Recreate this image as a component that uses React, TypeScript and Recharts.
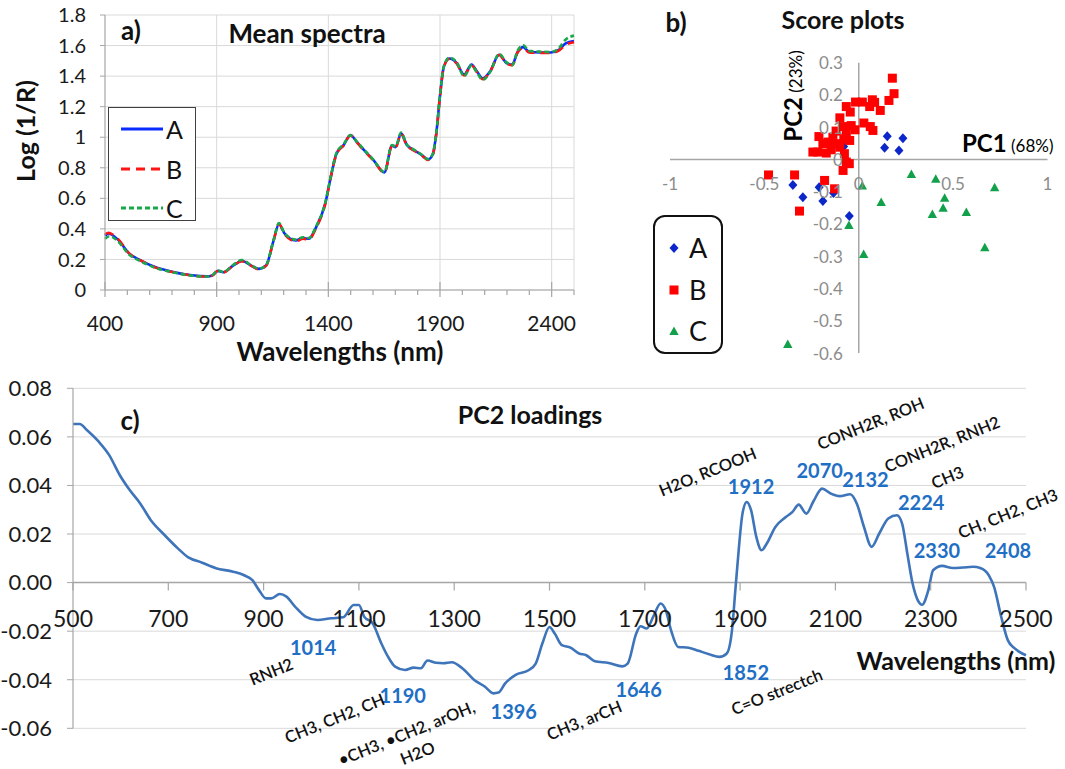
import React from "react";
import {
  LineChart,
  Line,
  ScatterChart,
  Scatter,
  XAxis,
  YAxis,
  CartesianGrid,
  ReferenceLine,
  ReferenceDot,
} from "recharts";

const FONT = "Lato, 'Open Sans', sans-serif";

// ---- a) mean spectra ----
const spectraWl = [400, 416, 425, 458, 508, 557, 624, 707, 789, 856, 880, 905, 930, 972, 1013, 1055, 1088, 1121, 1154, 1179, 1204, 1254, 1287, 1312, 1345, 1386, 1411, 1436, 1469, 1499, 1527, 1560, 1602, 1651, 1685, 1701, 1726, 1751, 1784, 1817, 1847, 1867, 1883, 1900, 1917, 1941, 1975, 2008, 2041, 2066, 2091, 2124, 2165, 2198, 2223, 2248, 2273, 2298, 2347, 2397, 2430, 2463, 2500];
const meanA = [0.355, 0.37, 0.366, 0.33, 0.24, 0.195, 0.15, 0.117, 0.096, 0.089, 0.095, 0.125, 0.116, 0.158, 0.19, 0.16, 0.138, 0.16, 0.32, 0.43, 0.37, 0.325, 0.34, 0.335, 0.41, 0.565, 0.74, 0.89, 0.95, 1.015, 0.97, 0.915, 0.85, 0.77, 0.945, 0.935, 1.025, 0.95, 0.915, 0.885, 0.855, 0.885, 1.02, 1.27, 1.46, 1.515, 1.485, 1.41, 1.475, 1.43, 1.385, 1.43, 1.54, 1.485, 1.475, 1.56, 1.59, 1.56, 1.555, 1.555, 1.57, 1.615, 1.63];
const meanB = [0.365, 0.375, 0.37, 0.335, 0.24, 0.195, 0.148, 0.116, 0.095, 0.088, 0.094, 0.124, 0.115, 0.157, 0.188, 0.158, 0.136, 0.158, 0.318, 0.432, 0.365, 0.318, 0.336, 0.33, 0.405, 0.562, 0.738, 0.888, 0.948, 1.012, 0.968, 0.912, 0.848, 0.768, 0.942, 0.932, 1.022, 0.948, 0.912, 0.882, 0.852, 0.882, 1.018, 1.268, 1.458, 1.512, 1.482, 1.405, 1.47, 1.425, 1.38, 1.428, 1.538, 1.482, 1.472, 1.556, 1.585, 1.555, 1.552, 1.552, 1.565, 1.605, 1.622];
const meanC = [0.335, 0.35, 0.35, 0.318, 0.232, 0.19, 0.146, 0.115, 0.094, 0.088, 0.096, 0.128, 0.118, 0.162, 0.196, 0.162, 0.14, 0.162, 0.322, 0.438, 0.372, 0.33, 0.345, 0.34, 0.415, 0.57, 0.745, 0.895, 0.955, 1.012, 0.972, 0.918, 0.852, 0.772, 0.948, 0.94, 1.03, 0.952, 0.918, 0.886, 0.856, 0.888, 1.022, 1.272, 1.464, 1.52, 1.49, 1.398, 1.47, 1.422, 1.375, 1.426, 1.545, 1.49, 1.472, 1.568, 1.602, 1.565, 1.56, 1.558, 1.58, 1.64, 1.665];
const spectraTicks = [400, 500, 600, 700, 800, 900, 1000, 1100, 1200, 1300, 1400, 1500, 1600, 1700, 1800, 1900, 2000, 2100, 2200, 2300, 2400, 2500];
const spectraLabelTicks = [400, 900, 1400, 1900, 2400];
const spectraYTicks = [0, 0.2, 0.4, 0.6, 0.8, 1, 1.2, 1.4, 1.6, 1.8];
const spectraSeries = [
  { key: "A", color: "#0a2bff", dash: undefined as string | undefined },
  { key: "B", color: "#ff1414", dash: "9 6" },
  { key: "C", color: "#19a84a", dash: "5 3" },
];

const spectraData = spectraWl.map((wl, i) => ({ wl, A: meanA[i], B: meanB[i], C: meanC[i] }));

// ---- b) score plots ----
const scoreA_pc1 = [0.151, 0.234, 0.137, 0.213, -0.349, -0.296, -0.19, -0.21, -0.134, -0.05, -0.08];
const scoreA_pc2 = [0.072, 0.066, 0.036, 0.028, -0.079, -0.117, -0.129, -0.086, -0.104, -0.175, 0.04];
const scoreB_pc1 = [0.178, 0.187, 0.16, 0.072, 0.084, 0.058, 0.114, -0.017, 0.019, -0.045, -0.066, -0.1, -0.04, 0.027, 0.061, 0.075, -0.02, -0.084, -0.12, -0.211, -0.066, -0.137, -0.163, -0.19, -0.079, -0.048, -0.243, -0.217, -0.172, -0.146, -0.1, -0.076, -0.05, -0.083, -0.066, -0.478, -0.34, -0.181, -0.128, -0.314, -0.12];
const scoreB_pc2 = [0.252, 0.204, 0.183, 0.185, 0.177, 0.164, 0.152, 0.178, 0.178, 0.147, 0.164, 0.129, 0.105, 0.113, 0.102, 0.09, 0.092, 0.102, 0.088, 0.071, 0.085, 0.069, 0.054, 0.049, 0.064, 0.059, 0.023, 0.023, 0.02, 0.03, 0.038, 0.018, -0.013, -0.034, -0.008, -0.048, -0.048, -0.065, -0.091, -0.16, 0.049];
const scoreC_pc1 = [0.279, 0.408, 0.72, 0.019, 0.455, 0.119, 0.447, 0.39, 0.57, -0.052, 0.026, 0.668, -0.376];
const scoreC_pc2 = [-0.045, -0.06, -0.086, -0.081, -0.119, -0.132, -0.15, -0.169, -0.163, -0.203, -0.293, -0.272, -0.572];
const pc1Ticks = [-1, -0.5, 0, 0.5, 1];
const pc2Ticks = [0.3, 0.2, 0.1, 0, -0.1, -0.2, -0.3, -0.4, -0.5, -0.6];

const toPoints = (xs: number[], ys: number[]) => xs.map((x, i) => ({ x, y: ys[i] }));

// ---- c) PC2 loadings ----
const loadWl = [500, 514, 529, 554, 576, 598, 619, 641, 663, 692, 720, 742, 771, 800, 836, 858, 876, 890, 905, 916, 934, 948, 966, 988, 1013, 1042, 1067, 1089, 1100, 1111, 1129, 1147, 1161, 1176, 1197, 1215, 1230, 1244, 1262, 1277, 1295, 1317, 1342, 1364, 1382, 1393, 1407, 1429, 1456, 1471, 1485, 1500, 1511, 1526, 1544, 1562, 1577, 1595, 1624, 1653, 1664, 1682, 1691, 1704, 1719, 1733, 1744, 1755, 1770, 1792, 1813, 1835, 1857, 1872, 1883, 1890, 1897, 1905, 1914, 1923, 1934, 1945, 1956, 1974, 1996, 2010, 2023, 2039, 2054, 2072, 2090, 2109, 2131, 2145, 2160, 2176, 2192, 2211, 2229, 2240, 2251, 2262, 2273, 2282, 2295, 2305, 2324, 2346, 2367, 2389, 2404, 2422, 2433, 2448, 2462, 2477, 2492, 2500];
const pc2Load = [0.0653, 0.0653, 0.0628, 0.058, 0.0525, 0.0443, 0.0381, 0.0326, 0.0258, 0.0196, 0.0141, 0.0104, 0.0082, 0.0059, 0.0045, 0.0031, 0.0011, -0.003, -0.0065, -0.0065, -0.0047, -0.0058, -0.0099, -0.014, -0.0154, -0.0147, -0.0143, -0.0092, -0.0092, -0.014, -0.0168, -0.025, -0.0305, -0.0346, -0.036, -0.035, -0.0353, -0.0321, -0.033, -0.0332, -0.0328, -0.0353, -0.0401, -0.0428, -0.0456, -0.0453, -0.0415, -0.038, -0.0361, -0.0334, -0.0251, -0.0183, -0.021, -0.0258, -0.0268, -0.0292, -0.0299, -0.0324, -0.0331, -0.0345, -0.0334, -0.021, -0.018, -0.0189, -0.0135, -0.0086, -0.0114, -0.0196, -0.0265, -0.0268, -0.0281, -0.0295, -0.0306, -0.0292, -0.0196, -0.0032, 0.0133, 0.0284, 0.0332, 0.0298, 0.0188, 0.0133, 0.0161, 0.0229, 0.027, 0.0291, 0.0321, 0.0284, 0.0335, 0.0387, 0.0367, 0.0356, 0.0364, 0.0325, 0.0229, 0.0147, 0.0202, 0.0264, 0.0277, 0.0243, 0.0119, -0.0004, -0.0073, -0.0091, -0.0032, 0.0051, 0.0069, 0.006, 0.0062, 0.0065, 0.006, 0.003, -0.0018, -0.0141, -0.0238, -0.0272, -0.0292, -0.0299];
const loadXTicks = [500, 700, 900, 1100, 1300, 1500, 1700, 1900, 2100, 2300, 2500];
const loadYTicks = [-0.06, -0.04, -0.02, 0, 0.02, 0.04, 0.06, 0.08];

// peak numbers (blue) and band assignments (black, slanted), anchored in data units
const peakText = ["1014", "1190", "1396", "1646", "1852", "1912", "2070", "2132", "2224", "2330", "2408"];
const peakAtWl = [1004, 1192, 1425, 1687, 1912, 1923, 2067, 2163, 2280, 2313, 2462];
const peakAtY = [-0.0265, -0.0464, -0.053, -0.0439, -0.0369, 0.0397, 0.0463, 0.0428, 0.0332, 0.0133, 0.0133];
const bandText = ["RNH2", "CH3, CH2, CH", "\u2022CH3, \u2022CH2, arOH,", "H2O", "CH3, arCH", "C=O strectch", "H2O, RCOOH", "CONH2R, ROH", "CONH2R, RNH2", "CH3", "CH, CH2, CH3"];
const bandAtWl = [916, 1049, 1200, 1223, 1573, 1977, 1832, 2174, 2324, 2335, 2462];
const bandAtY = [-0.0367, -0.0559, -0.062, -0.0702, -0.0567, -0.045, 0.0456, 0.0655, 0.057, 0.0433, 0.0284];

const loadData = loadWl.map((wl, i) => ({ wl, v: pc2Load[i] }));

const AXIS = "#a6a6a6";
const GRID = "#d9d9d9";

function SpectraTick(props: any) {
  const { x, y, payload } = props;
  const major = spectraLabelTicks.includes(payload.value);
  return (
    <g>
      <line x1={x} x2={x} y1={major ? y - 8 : y} y2={y + (major ? 7 : 5)} stroke={AXIS} strokeWidth={1.2} />
      {major && (
        <text x={x} y={y + 32} textAnchor="middle" dominantBaseline="central" fontSize={21} fill="#1a1a1a" fontFamily={FONT}>
          {payload.value}
        </text>
      )}
    </g>
  );
}

function Txt({ x, y, size, bold, rotate, color, children }: any) {
  return (
    <div
      style={{
        position: "absolute",
        left: x,
        top: y,
        transform: `translate(-50%, -50%)${rotate ? ` rotate(${rotate}deg)` : ""}`,
        fontSize: size,
        fontWeight: bold ? 700 : 400,
        color: color || "#111",
        whiteSpace: "nowrap",
        lineHeight: 1,
        fontFamily: FONT,
      }}
    >
      {children}
    </div>
  );
}

const diamond = (p: any) => (
  <polygon points={`${p.cx},${p.cy - 5} ${p.cx + 4.5},${p.cy} ${p.cx},${p.cy + 5} ${p.cx - 4.5},${p.cy}`} fill="#0b27c9" />
);
const square = (p: any) => <rect x={p.cx - 4.5} y={p.cy - 4.5} width={9} height={9} fill="#ff0000" />;
const triangle = (p: any) => (
  <polygon points={`${p.cx},${p.cy - 4.5} ${p.cx + 4.7},${p.cy + 4} ${p.cx - 4.7},${p.cy + 4}`} fill="#12a14a" />
);

const scoreSeries = [
  { name: "A", data: toPoints(scoreA_pc1, scoreA_pc2), shape: diamond },
  { name: "B", data: toPoints(scoreB_pc1, scoreB_pc2), shape: square },
  { name: "C", data: toPoints(scoreC_pc1, scoreC_pc2), shape: triangle },
];

export default function App() {
  return (
    <div style={{ position: "absolute", left: 0, top: 0, width: 1065, height: 769, background: "#fff", fontFamily: FONT, overflow: "hidden" }}>
      {/* a) mean spectra */}
      <div style={{ position: "absolute", left: 0, top: 0 }}>
        <LineChart width={600} height={370} data={spectraData} margin={{ top: 15, right: 26, bottom: 50, left: 0 }}>
          <CartesianGrid vertical={false} stroke={GRID} />
          {[900, 1400, 1900, 2400, 2500].map((w) => (
            <ReferenceLine key={w} x={w} stroke={GRID} />
          ))}
          <XAxis
            dataKey="wl"
            type="number"
            domain={[400, 2500]}
            ticks={spectraTicks}
            interval={0}
            tick={<SpectraTick />}
            tickLine={false}
            tickSize={0}
            tickMargin={0}
            axisLine={{ stroke: AXIS, strokeWidth: 1.2 }}
            height={30}
          />
          <YAxis
            domain={[0, 1.8]}
            ticks={spectraYTicks}
            interval={0}
            width={105}
            tickSize={5}
            tickMargin={14}
            axisLine={{ stroke: AXIS, strokeWidth: 1.2 }}
            tickLine={{ stroke: AXIS }}
            tick={{ fontSize: 20, fill: "#1a1a1a", fontFamily: FONT }}
          />
          {spectraSeries.map((s) => (
            <Line
              key={s.key}
              dataKey={s.key}
              type="monotone"
              stroke={s.color}
              strokeWidth={2.6}
              strokeDasharray={s.dash}
              dot={false}
              isAnimationActive={false}
            />
          ))}
        </LineChart>
        <div style={{ position: "absolute", left: 108, top: 107, width: 88, height: 114, border: "1.5px solid #404040", boxSizing: "border-box", background: "#fff" }}>
          {spectraSeries.map((s, i) => (
            <div key={s.key} style={{ position: "absolute", left: 0, top: 8 + i * 39.5, height: 26, width: 86 }}>
              <svg width={44} height={26} style={{ position: "absolute", left: 12, top: 0 }}>
                <line x1={0} x2={42} y1={13} y2={13} stroke={s.color} strokeWidth={3} strokeDasharray={s.dash} />
              </svg>
              <span style={{ position: "absolute", left: 57, top: 0, fontSize: 25, lineHeight: "26px", color: "#111" }}>{s.key}</span>
            </div>
          ))}
        </div>
        <Txt x={131} y={30} size={26} bold>a)</Txt>
        <Txt x={307} y={33} size={26} bold>Mean spectra</Txt>
        <Txt x={25} y={131} size={25} bold rotate={-90}>Log (1/R)</Txt>
        <Txt x={340} y={351} size={26} bold>Wavelengths (nm)</Txt>
      </div>

      {/* b) score plots */}
      <div style={{ position: "absolute", left: 580, top: 0 }}>
        <ScatterChart width={485} height={370} margin={{ top: 62.7, right: 17.5, bottom: 17, left: 90 }}>
          <XAxis type="number" dataKey="x" domain={[-1, 1]} hide />
          <YAxis type="number" dataKey="y" domain={[-0.6, 0.3]} hide />
          <ReferenceLine x={0} stroke={AXIS} strokeWidth={1.5} />
          <ReferenceLine y={0} stroke={AXIS} strokeWidth={1.5} />
          {scoreSeries.map((s) => (
            <Scatter key={s.name} name={s.name} data={s.data} shape={s.shape} isAnimationActive={false} />
          ))}
          {pc1Ticks.map((t) => (
            <ReferenceDot
              key={`x${t}`}
              x={t}
              y={0}
              r={0}
              ifOverflow="visible"
              shape={(p: any) => (
                <text x={p.cx} y={p.cy + 24} textAnchor="middle" dominantBaseline="central" fontSize={17} fill="#8c8c8c" fontFamily={FONT}>
                  {t}
                </text>
              )}
            />
          ))}
          {pc2Ticks.map((t) => (
            <ReferenceDot
              key={`y${t}`}
              x={0}
              y={t}
              r={0}
              ifOverflow="visible"
              shape={(p: any) => (
                <text x={p.cx - 16} y={p.cy} textAnchor="end" dominantBaseline="central" fontSize={17} fill="#8c8c8c" fontFamily={FONT}>
                  {t}
                </text>
              )}
            />
          ))}
        </ScatterChart>
        <Txt x={96} y={22} size={26} bold>b)</Txt>
        <Txt x={263} y={19} size={25} bold>Score plots</Txt>
        <div
          style={{
            position: "absolute",
            left: 213,
            top: 96,
            transform: "translate(-50%, -50%) rotate(-90deg)",
            whiteSpace: "nowrap",
            lineHeight: 1,
          }}
        >
          <span style={{ fontSize: 24, fontWeight: 700 }}>PC2</span>
          <span style={{ fontSize: 17 }}> (23%)</span>
        </div>
        <div style={{ position: "absolute", left: 382, top: 131, whiteSpace: "nowrap", lineHeight: 1 }}>
          <span style={{ fontSize: 24, fontWeight: 700 }}>PC1</span>
          <span style={{ fontSize: 17 }}> (68%)</span>
        </div>
        <div style={{ position: "absolute", left: 73, top: 215, width: 70, height: 139, border: "2px solid #111", borderRadius: 12, boxSizing: "border-box", background: "#fff" }}>
          {scoreSeries.map((s, i) => (
            <div key={s.name} style={{ position: "absolute", left: 0, top: 16 + i * 41.7, height: 30, width: 66 }}>
              <svg width={20} height={30} style={{ position: "absolute", left: 9, top: 0 }}>
                {s.shape({ cx: 10, cy: 15 })}
              </svg>
              <span style={{ position: "absolute", left: 34, top: 0, fontSize: 27, lineHeight: "30px", color: "#111" }}>{s.name}</span>
            </div>
          ))}
        </div>
      </div>

      {/* c) PC2 loadings */}
      <div style={{ position: "absolute", left: 0, top: 370 }}>
        <LineChart width={1065} height={399} data={loadData} margin={{ top: 18.3, right: 39, bottom: 40.7, left: 0 }}>
          <CartesianGrid vertical={false} stroke={GRID} />
          <XAxis dataKey="wl" type="number" domain={[500, 2500]} hide />
          <YAxis
            domain={[-0.06, 0.08]}
            ticks={loadYTicks}
            interval={0}
            width={73}
            tickSize={6}
            tickMargin={15}
            tickFormatter={(v: number) => v.toFixed(2)}
            axisLine={{ stroke: AXIS, strokeWidth: 1.2 }}
            tickLine={{ stroke: AXIS }}
            tick={{ fontSize: 22, fill: "#1a1a1a", fontFamily: FONT }}
          />
          <ReferenceLine y={0} stroke={AXIS} strokeWidth={1.5} />
          {loadXTicks.map((t) => (
            <ReferenceDot
              key={`t${t}`}
              x={t}
              y={0}
              r={0}
              ifOverflow="visible"
              shape={(p: any) => (
                <g>
                  <line x1={p.cx} x2={p.cx} y1={p.cy} y2={p.cy + 8} stroke={AXIS} strokeWidth={1.2} />
                  <text x={p.cx} y={p.cy + 35} textAnchor="middle" dominantBaseline="central" fontSize={23} fill="#1a1a1a" fontFamily={FONT}>
                    {t}
                  </text>
                </g>
              )}
            />
          ))}
          <Line dataKey="v" type="monotone" stroke="#3d74ba" strokeWidth={2.6} dot={false} isAnimationActive={false} />
          {peakText.map((label, i) => (
            <ReferenceDot
              key={`p${i}`}
              x={peakAtWl[i]}
              y={peakAtY[i]}
              r={0}
              ifOverflow="visible"
              shape={(p: any) => (
                <text x={p.cx} y={p.cy} textAnchor="middle" dominantBaseline="central" fontSize={20} fontWeight={700} fill="#1f6fc5" fontFamily={FONT}>
                  {label}
                </text>
              )}
            />
          ))}
          {bandText.map((label, i) => (
            <ReferenceDot
              key={`b${i}`}
              x={bandAtWl[i]}
              y={bandAtY[i]}
              r={0}
              ifOverflow="visible"
              shape={(p: any) => (
                <text
                  x={p.cx}
                  y={p.cy}
                  textAnchor="middle"
                  dominantBaseline="central"
                  fontSize={16.5}
                  fontWeight={600}
                  fill="#111"
                  fontFamily={FONT}
                  transform={`rotate(-22 ${p.cx} ${p.cy})`}
                >
                  {label}
                </text>
              )}
            />
          ))}
        </LineChart>
        <Txt x={130} y={50} size={26} bold>c)</Txt>
        <Txt x={530} y={44} size={25} bold>PC2 loadings</Txt>
        <Txt x={956} y={290} size={25} bold>Wavelengths (nm)</Txt>
      </div>
    </div>
  );
}
